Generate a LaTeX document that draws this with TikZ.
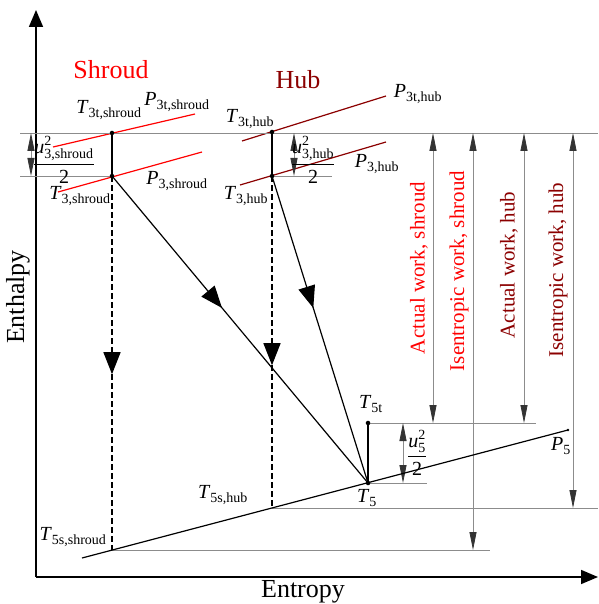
\documentclass[tikz,border=0pt]{standalone}
\usepackage{amsmath}
\usepackage{fontspec}
\setmainfont{Liberation Serif}
\usetikzlibrary{arrows.meta,decorations.markings}
\definecolor{vermelho}{HTML}{FF0000}
\definecolor{vinho}{HTML}{8B0000}
\definecolor{cinza}{HTML}{8C8C8C}
\definecolor{cinzaesc}{HTML}{333333}
\newcommand{\estado}[2]{\textit{#1}\textsubscript{#2}}
\newcommand{\cinet}[1]{$\dfrac{\textit{u}^{\text{2}}_{\text{#1}}}{\text{2}}$}

\begin{document}
\begin{tikzpicture}[
  x=1pt, y=-1pt,
  eixo/.style={line width=1.6pt, -{Triangle[length=17pt,width=14pt]}},
  isobara/.style={line width=1.2pt, draw=#1},
  linha/.style={line width=1.2pt},
  guia/.style={draw=cinza, line width=0.8pt},
  cota/.style={guia, {Triangle[length=18pt,width=7pt,color=cinzaesc]}-{Triangle[length=18pt,width=7pt,color=cinzaesc]}},
  processo/.style={line width=1.2pt, postaction={decorate},
                   decoration={markings, mark=at position #1 with {\arrow{Triangle[length=22pt,width=17pt]}}}},
  tracejado/.style={dash pattern=on 6pt off 3pt},
  ponto/.style={circle, fill, inner sep=1.6pt},
  rotulo/.style={font=\fontsize{20}{22}\selectfont, inner sep=0pt},
  titulo/.style={font=\fontsize{26}{28}\selectfont, inner sep=0pt},
  trabalho/.style={rotate=90, font=\fontsize{21}{24}\selectfont, inner sep=0pt}
]
\useasboundingbox (0,0) rectangle (598,604);
\coordinate (orig) at (36,577);
\coordinate (ytop) at (36,10);
\coordinate (xend) at (598,577);
\coordinate (t3ts) at (112,133);
\coordinate (t3s) at (112,176);
\coordinate (t3th) at (272,132);
\coordinate (t3h) at (272,176);
\coordinate (t5t) at (368,423);
\coordinate (t5) at (368,483);
\coordinate (t5ss) at (112,550);
\coordinate (t5sh) at (272,508);
\coordinate (p5a) at (82,558);
\coordinate (p5b) at (568,430);
\draw[eixo] (orig) -- (ytop);
\draw[eixo] (orig) -- (xend);
\node[titulo, rotate=90] (hy) at (18,297) {Enthalpy};
\node[titulo] (sx) at (303,592) {Entropy};
\node[titulo, text=vermelho] (nshroud) at (111,70) {Shroud};
\node[titulo, text=vinho] (nhub) at (298,80) {Hub};
\draw[isobara=vermelho] (53,147) -- (195,114);
\draw[isobara=vermelho] (58,192) -- (202,152);
\draw[isobara=vinho] (242,141) -- (386,96);
\draw[isobara=vinho] (240,185) -- (386,142);
\draw[guia] (20,133) -- (598,133);
\draw[guia] (20,176) -- (t3s);
\draw[guia] (t3h) -- (332,176);
\draw[guia] (t5t) -- (536,423);
\draw[guia] (t5) -- (427,483);
\draw[guia] (t5sh) -- (598,508);
\draw[guia] (t5ss) -- (490,550);
\draw[cota] (31,133) -- (31,176);
\draw[cota] (294,133) -- (294,176);
\draw[cota] (403,423) -- (403,483);
\draw[cota] (433,133) -- (433,423);
\draw[cota] (473,133) -- (473,550);
\draw[cota] (524,133) -- (524,423);
\draw[cota] (573,133) -- (573,508);
\draw[linha] (p5a) -- (p5b);
\draw[linha] (t3ts) -- (t3s);
\draw[linha] (t3th) -- (t3h);
\draw[linha] (t5t) -- (t5);
\draw[processo=0.43] (t3s) -- (t5);
\draw[processo=0.43] (t3h) -- (t5);
\draw[processo=0.53, tracejado] (t3s) -- (t5ss);
\draw[processo=0.57, tracejado] (t3h) -- (t5sh);
\node[ponto] (d3ts) at (t3ts) {};
\node[ponto] (d3s) at (t3s) {};
\node[ponto] (d3th) at (t3th) {};
\node[ponto] (d3h) at (t3h) {};
\node[ponto] (d5t) at (t5t) {};
\node[ponto] (d5) at (t5) {};
\node[ponto, inner sep=1pt] (d5b) at (p5b) {};
\node[rotulo] (l3ts) at (109,110) {\estado{T}{3t,shroud}};
\node[rotulo] (lp3ts) at (177,102) {\estado{P}{3t,shroud}};
\node[rotulo] (l3s) at (80,196) {\estado{T}{3,shroud}};
\node[rotulo] (lp3s) at (177,181) {\estado{P}{3,shroud}};
\node[rotulo] (l3th) at (250,119) {\estado{T}{3t,hub}};
\node[rotulo] (lp3th) at (418,94) {\estado{P}{3t,hub}};
\node[rotulo] (l3h) at (246,196) {\estado{T}{3,hub}};
\node[rotulo] (lp3h) at (377,164) {\estado{P}{3,hub}};
\node[rotulo] (l5t) at (371,404) {\estado{T}{5t}};
\node[rotulo] (l5) at (367,498) {\estado{T}{5}};
\node[rotulo] (lp5) at (561,446) {\estado{P}{5}};
\node[rotulo] (l5sh) at (223,495) {\estado{T}{5s,hub}};
\node[rotulo] (l5ss) at (73,537) {\estado{T}{5s,shroud}};
\node[rotulo] (c3s) at (64,160) {\cinet{3,shroud}};
\node[rotulo] (c3h) at (313,160) {\cinet{3,hub}};
\node[rotulo] (c5) at (417,453) {\cinet{5}};
\node[trabalho, text=vermelho] (wrs) at (419,268) {Actual work, shroud};
\node[trabalho, text=vermelho] (wis) at (459,271) {Isentropic work, shroud};
\node[trabalho, text=vinho] (wrh) at (509,265) {Actual work, hub};
\node[trabalho, text=vinho] (wih) at (558,270) {Isentropic work, hub};
\end{tikzpicture}
\end{document}
